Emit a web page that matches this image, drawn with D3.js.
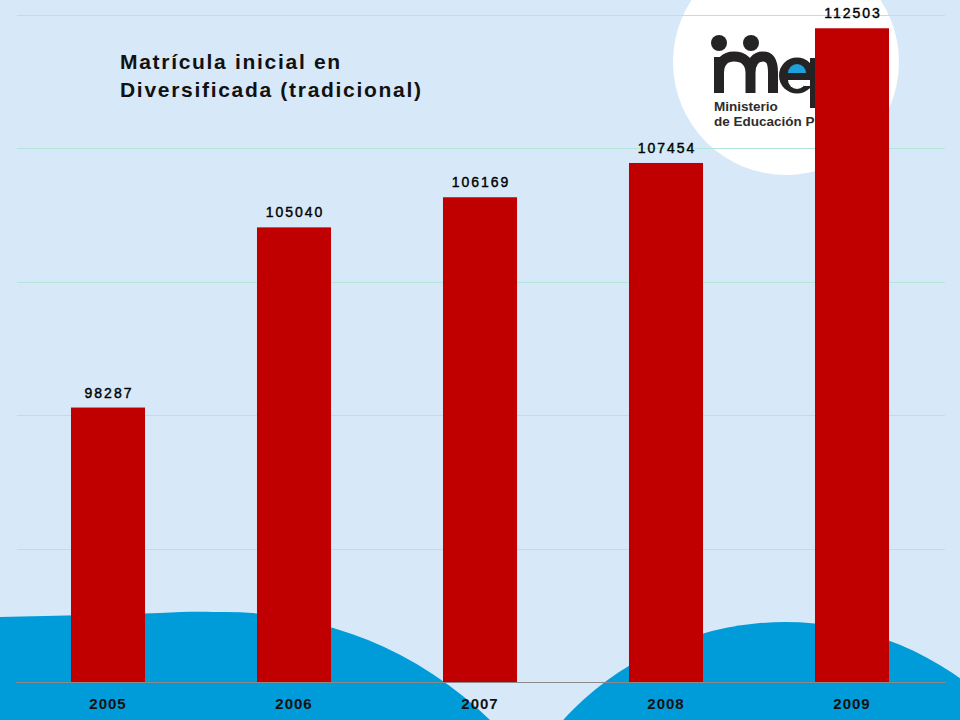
<!DOCTYPE html>
<html>
<head>
<meta charset="utf-8">
<script src="https://cdn.jsdelivr.net/npm/d3@7/dist/d3.min.js"></script>
<style>
html,body{margin:0;padding:0;background:#d7e8f8;}
svg{display:block;}
</style>
</head>
<body>
<div id="chart"></div>
<script>
const years = ["2005","2006","2007","2008","2009"];
const values = [98287, 105040, 106169, 107454, 112503];
const yTicks = [88000, 93000, 98000, 103000, 108000, 113000];
const titleLines = ["Matrícula inicial en", "Diversificada (tradicional)"];

const W = 960, H = 720;
const FONT = "Liberation Sans, Arial, sans-serif";
const svg = d3.select("#chart").append("svg").attr("width", W).attr("height", H);

// background
svg.append("rect").attr("width", W).attr("height", H).attr("fill", "#d7e8f8");

// white circle with logo
svg.append("circle").attr("cx", 786).attr("cy", 62).attr("r", 113).attr("fill", "#ffffff");

const logo = svg.append("g");
const dark = "#262324";
logo.append("circle").attr("cx", 719).attr("cy", 43).attr("r", 8).attr("fill", dark);
logo.append("circle").attr("cx", 751).attr("cy", 43).attr("r", 8).attr("fill", dark);
logo.append("path")
  .attr("d", "M719,93 V57 M719,73 C719,62 725,56.5 734,56.5 C743,56.5 750.5,62 750.5,73 V93 M750.5,73 C750.5,62 756,56.5 763,56.5 C771,56.5 773,63 773,73 V93")
  .attr("fill", "none").attr("stroke", dark).attr("stroke-width", 10);
// e
logo.append("circle").attr("cx", 797).attr("cy", 75.5).attr("r", 18).attr("fill", dark);
logo.append("path").attr("d", "M788,73 A9,9 0 0 1 806,73 Z").attr("fill", "#1da1dc");
logo.append("path").attr("d", "M788,80 A9,9 0 0 0 806,80 Z").attr("fill", "#ffffff");
logo.append("rect").attr("x", 804).attr("y", 80).attr("width", 12).attr("height", 6).attr("fill", "#ffffff");
// p stem (mostly hidden)
logo.append("rect").attr("x", 810).attr("y", 58).attr("width", 8).attr("height", 50).attr("fill", dark);
logo.append("text").attr("x", 714).attr("y", 111).text("Ministerio")
  .attr("font-family", FONT).attr("font-weight", "bold")
  .attr("font-size", 13.5).attr("fill", "#2e2c2d");
logo.append("text").attr("x", 714).attr("y", 126).text("de Educación Pública")
  .attr("font-family", FONT).attr("font-weight", "bold")
  .attr("font-size", 13.5).attr("fill", "#2e2c2d");

// bottom blue shapes
const blue = "#009bd9";
svg.append("path")
  .attr("d", "M0,720 V617 C60,616 120,614 160,613 C190,611 210,612 225,612 A380,380 0 0 1 490,720 Z")
  .attr("fill", blue);
svg.append("circle").attr("cx", 785).attr("cy", 922).attr("r", 300).attr("fill", blue);

// scales
const x = d3.scaleBand().domain(years).range([15, 945]).paddingInner(0.602).paddingOuter(0.301);
const y = d3.scaleLinear().domain([88000, 113000]).range([682, 15]);

// gridlines
svg.append("g").selectAll("line").data(yTicks.slice(1)).join("line")
  .attr("x1", 17).attr("x2", 945)
  .attr("y1", d => Math.round(y(d)) + 0.5).attr("y2", d => Math.round(y(d)) + 0.5)
  .attr("stroke", "#b2e6da").attr("stroke-width", 1);

// bars
svg.append("g").selectAll("rect").data(values).join("rect")
  .attr("x", (d, i) => x(years[i]))
  .attr("width", x.bandwidth())
  .attr("y", d => y(d))
  .attr("height", d => y(88000) - y(d))
  .attr("fill", "#c00000");

// x axis
const xAxis = svg.append("g").attr("transform", "translate(0,682)")
  .call(d3.axisBottom(x).tickSize(0).tickPadding(16));
xAxis.select(".domain").attr("stroke", "#8a8a8a").attr("stroke-width", 1.2);
xAxis.selectAll("text")
  .attr("font-family", FONT)
  .attr("font-weight", "bold").attr("font-size", 15)
  .attr("letter-spacing", "1px")
  .attr("fill", "#111");

// value labels
svg.append("g").selectAll("text").data(values).join("text")
  .attr("x", (d, i) => x(years[i]) + x.bandwidth() / 2 + 1)
  .attr("y", d => y(d) - 10)
  .attr("text-anchor", "middle")
  .attr("font-family", FONT)
  .attr("font-size", 14).attr("letter-spacing", "2px")
  .attr("fill", "#000").attr("stroke", "#000").attr("stroke-width", 0.4)
  .text(d => d);

// title
svg.append("g").selectAll("text").data(titleLines).join("text")
  .attr("x", 120).attr("y", (d, i) => 69 + i * 27.5)
  .attr("font-family", FONT)
  .attr("font-weight", "bold").attr("font-size", 21)
  .attr("letter-spacing", "1.7px")
  .attr("fill", "#111")
  .text(d => d);
</script>
</body>
</html>
